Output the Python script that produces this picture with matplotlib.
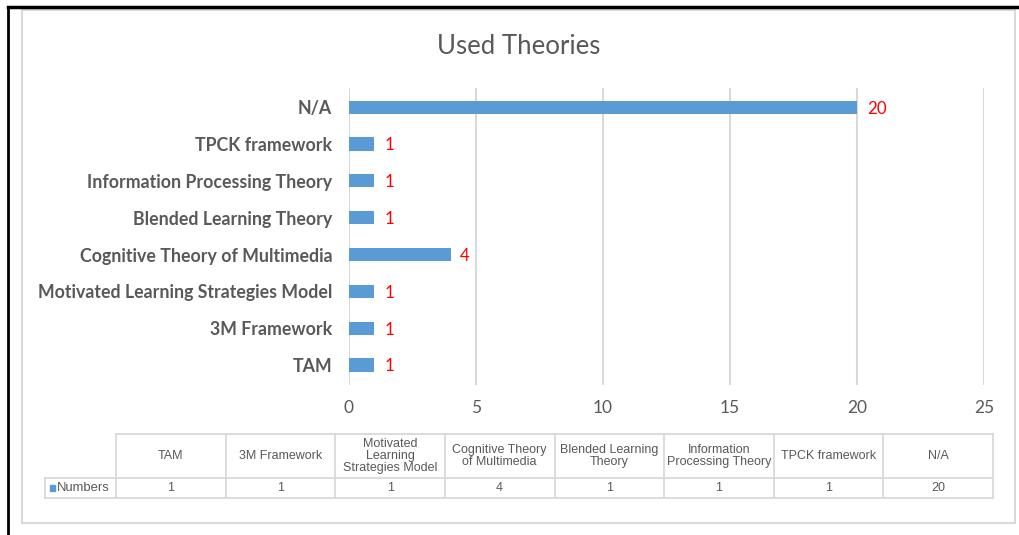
import matplotlib.pyplot as plt
from matplotlib.patches import Rectangle
from matplotlib.lines import Line2D

# data (bottom to top, as in the chart)
theories = ['TAM', '3M Framework', 'Motivated Learning Strategies Model',
            'Cognitive Theory of Multimedia', 'Blended Learning Theory',
            'Information Processing Theory', 'TPCK framework', 'N/A']
numbers = [1, 1, 1, 4, 1, 1, 1, 20]
table_headers = ['TAM', '3M Framework', 'Motivated\nLearning\nStrategies Model',
                 'Cognitive Theory\nof Multimedia', 'Blended Learning\nTheory',
                 'Information\nProcessing Theory', 'TPCK framework', 'N/A']
x_ticks = [0, 5, 10, 15, 20, 25]

W, H = 1019, 535
BLUE = '#5b9bd5'
GRAY = '#595959'
GRID = '#d9d9d9'
LABEL_FONT = ['Lato', 'DejaVu Sans']
TABLE_FONT = ['Liberation Sans', 'DejaVu Sans']


def fx(x):
    return x / W


def fy(y):
    return 1 - y / H


fig = plt.figure(figsize=(W / 100, H / 100), dpi=100)

# frames
fig.add_artist(Rectangle((fx(22), fy(523)), fx(1015) - fx(22), fy(10) - fy(523),
                         transform=fig.transFigure, fill=False, ec=GRID, lw=1.5))
fig.add_artist(Line2D([fx(8), fx(8)], [fy(7), 0], transform=fig.transFigure, color='black', lw=2))
fig.add_artist(Line2D([fx(8), 1], [fy(7), fy(7)], transform=fig.transFigure, color='black', lw=2.5))

# bar chart
ax = fig.add_axes([fx(349), fy(385), fx(984) - fx(349), fy(88) - fy(385)])
pos = list(range(len(theories)))
ax.barh(pos, numbers, height=0.36, color=BLUE, zorder=3)
for p, v in zip(pos, numbers):
    ax.annotate(str(v), (v, p), xytext=(7, -1), textcoords='offset points',
                va='center', ha='left', color='#ff0000', fontsize=12.2, family=LABEL_FONT)
ax.set_xlim(0, 25)
ax.set_ylim(-0.54, 7.52)
ax.set_xticks(x_ticks)
ax.set_yticks(pos)
ax.set_yticklabels(theories, fontweight='bold', color=GRAY, fontsize=12.8, family=LABEL_FONT)
ax.tick_params(axis='y', length=0, pad=12)
ax.tick_params(axis='x', length=0, pad=11, labelcolor=GRAY, labelsize=12.5)
for t in ax.get_xticklabels():
    t.set_family(LABEL_FONT)
ax.grid(axis='x', color=GRID, lw=1.5, zorder=0)
for s in ax.spines.values():
    s.set_visible(False)

fig.text(fx(519), fy(46), 'Used Theories', ha='center', va='center',
         fontsize=18.5, color=GRAY, family=LABEL_FONT)

# data table below
col_left = 116
col_w = (993 - 116) / len(table_headers)
top, mid, bot = 434, 478, 498
tkw = dict(transform=fig.transFigure, color=GRID, lw=1.3)
fig.add_artist(Line2D([fx(col_left), fx(993)], [fy(top), fy(top)], **tkw))
fig.add_artist(Line2D([fx(45), fx(993)], [fy(mid), fy(mid)], **tkw))
fig.add_artist(Line2D([fx(45), fx(993)], [fy(bot), fy(bot)], **tkw))
fig.add_artist(Line2D([fx(45), fx(45)], [fy(mid), fy(bot)], **tkw))
for i in range(len(table_headers) + 1):
    x = col_left + i * col_w
    fig.add_artist(Line2D([fx(x), fx(x)], [fy(top), fy(bot)], **tkw))
for i, (h, v) in enumerate(zip(table_headers, numbers)):
    cx = col_left + (i + 0.5) * col_w
    fig.text(fx(cx), fy((top + mid) / 2), h, ha='center', va='center', fontsize=9.0,
             color=GRAY, family=TABLE_FONT, linespacing=1.0)
    fig.text(fx(cx), fy((mid + bot) / 2), str(v), ha='center', va='center', fontsize=9.0,
             color=GRAY, family=TABLE_FONT)
fig.add_artist(Rectangle((fx(50), fy(491)), fx(5), fy(485) - fy(491),
                         transform=fig.transFigure, color=BLUE))
fig.text(fx(57), fy(488), 'Numbers', ha='left', va='center', fontsize=9.4,
         color=GRAY, family=TABLE_FONT)

fig.savefig('out.png', dpi=100)
